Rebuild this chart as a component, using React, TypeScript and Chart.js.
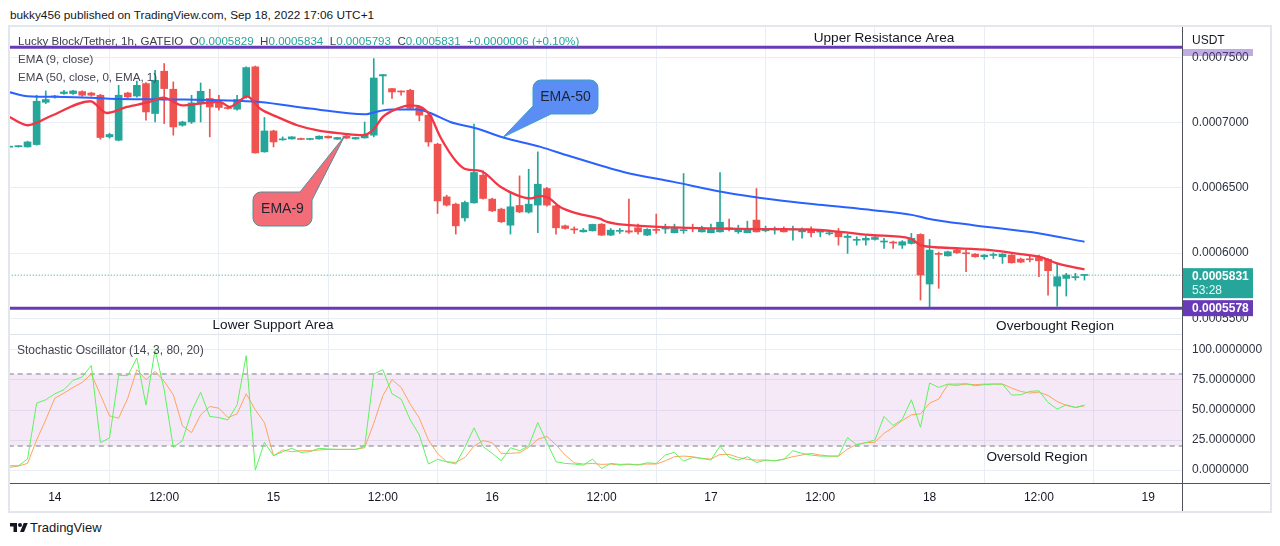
import { useEffect, useRef } from "react";
import { Chart, registerables } from "chart.js";
Chart.register(...registerables);

const FONT = "'Liberation Sans', Arial, sans-serif";
const UP = "#26a69a";
const DOWN = "#ef5350";
const GRID = "#e9eef5";

// Hourly candles, Sep 13 19:00 -> Sep 18 17:00
const opens = [
  6812e-7, 6816e-7, 6814e-7, 6832e-7, 7156e-7, 7197e-7, 7223e-7, 7223e-7, 7238e-7, 7227e-7,
  7210e-7, 6891e-7, 6865e-7, 7227e-7, 7204e-7, 7299e-7, 7070e-7, 7394e-7, 7256e-7, 6980e-7,
  7005e-7, 7151e-7, 7185e-7, 7151e-7, 7116e-7, 7103e-7, 7197e-7, 7427e-7, 6776e-7, 6936e-7,
  6868e-7, 6875e-7, 6878e-7, 6871e-7, 6875e-7, 6896e-7, 6873e-7, 6898e-7, 6875e-7, 6883e-7,
  6904e-7, 7358e-7, 7261e-7, 7240e-7, 7248e-7, 7118e-7, 7057e-7, 6835e-7, 6431e-7, 6375e-7,
  6270e-7, 6385e-7, 6597e-7, 6414e-7, 6337e-7, 6214e-7, 6365e-7, 6314e-7, 6368e-7, 6495e-7,
  6362e-7, 6209e-7, 6184e-7, 6163e-7, 6171e-7, 6222e-7, 6138e-7, 6167e-7, 6171e-7, 6194e-7,
  6138e-7, 6178e-7, 6185e-7, 6156e-7, 6172e-7, 6194e-7, 6163e-7, 6156e-7, 6163e-7, 6194e-7,
  6163e-7, 6156e-7, 6253e-7, 6171e-7, 6178e-7, 6189e-7, 6178e-7, 6163e-7, 6184e-7, 6161e-7,
  6148e-7, 6163e-7, 6120e-7, 6098e-7, 6100e-7, 6105e-7, 6085e-7, 6080e-7, 6061e-7, 6074e-7,
  6143e-7, 5763e-7, 5998e-7, 5979e-7, 6023e-7, 6000e-7, 5992e-7, 5972e-7, 5982e-7, 5972e-7,
  5985e-7, 5954e-7, 5954e-7, 5967e-7, 5952e-7, 5747e-7, 5806e-7, 5812e-7, 5829e-7,
];
const highs = [
  6827e-7, 6823e-7, 6858e-7, 7210e-7, 7243e-7, 7210e-7, 7248e-7, 7248e-7, 7244e-7, 7233e-7,
  7217e-7, 6919e-7, 7286e-7, 7233e-7, 7319e-7, 7307e-7, 7401e-7, 7453e-7, 7312e-7, 7011e-7,
  7210e-7, 7304e-7, 7256e-7, 7210e-7, 7118e-7, 7210e-7, 7428e-7, 7434e-7, 7039e-7, 6942e-7,
  6891e-7, 6892e-7, 6881e-7, 6878e-7, 6898e-7, 6898e-7, 6888e-7, 6904e-7, 6888e-7, 7005e-7,
  7491e-7, 7371e-7, 7263e-7, 7244e-7, 7256e-7, 7122e-7, 7064e-7, 6842e-7, 6444e-7, 6383e-7,
  6398e-7, 6988e-7, 6630e-7, 6421e-7, 6345e-7, 6459e-7, 6592e-7, 6643e-7, 6776e-7, 6505e-7,
  6368e-7, 6214e-7, 6201e-7, 6189e-7, 6222e-7, 6226e-7, 6189e-7, 6189e-7, 6414e-7, 6222e-7,
  6188e-7, 6299e-7, 6222e-7, 6222e-7, 6610e-7, 6222e-7, 6207e-7, 6222e-7, 6618e-7, 6260e-7,
  6214e-7, 6245e-7, 6495e-7, 6207e-7, 6201e-7, 6201e-7, 6207e-7, 6194e-7, 6201e-7, 6176e-7,
  6176e-7, 6189e-7, 6146e-7, 6125e-7, 6130e-7, 6126e-7, 6113e-7, 6092e-7, 6096e-7, 6151e-7,
  6149e-7, 6105e-7, 6008e-7, 6015e-7, 6031e-7, 6023e-7, 5996e-7, 5989e-7, 6002e-7, 5996e-7,
  5989e-7, 5962e-7, 5977e-7, 5985e-7, 5958e-7, 5921e-7, 5845e-7, 5845e-7, 5834e-7,
];
const lows = [
  6804e-7, 6812e-7, 6812e-7, 6827e-7, 7146e-7, 7187e-7, 7217e-7, 7217e-7, 7202e-7, 7202e-7,
  6873e-7, 6881e-7, 6860e-7, 7187e-7, 7195e-7, 7018e-7, 7005e-7, 6993e-7, 6904e-7, 6972e-7,
  6993e-7, 7005e-7, 6891e-7, 7095e-7, 7103e-7, 7095e-7, 7187e-7, 6766e-7, 6773e-7, 6814e-7,
  6865e-7, 6873e-7, 6869e-7, 6868e-7, 6873e-7, 6881e-7, 6871e-7, 6878e-7, 6873e-7, 6881e-7,
  6891e-7, 7141e-7, 7185e-7, 7210e-7, 7103e-7, 7013e-7, 6819e-7, 6304e-7, 6360e-7, 6146e-7,
  6245e-7, 6383e-7, 6414e-7, 6318e-7, 6234e-7, 6146e-7, 6310e-7, 6306e-7, 6156e-7, 6360e-7,
  6146e-7, 6184e-7, 6151e-7, 6161e-7, 6169e-7, 6134e-7, 6134e-7, 6151e-7, 6151e-7, 6146e-7,
  6134e-7, 6151e-7, 6151e-7, 6155e-7, 6151e-7, 6163e-7, 6161e-7, 6155e-7, 6161e-7, 6171e-7,
  6151e-7, 6155e-7, 6161e-7, 6163e-7, 6146e-7, 6161e-7, 6100e-7, 6115e-7, 6125e-7, 6125e-7,
  6138e-7, 6061e-7, 5998e-7, 6061e-7, 6061e-7, 6100e-7, 6036e-7, 6036e-7, 6036e-7, 6069e-7,
  5640e-7, 5584e-7, 5730e-7, 5977e-7, 5998e-7, 5857e-7, 5969e-7, 5952e-7, 5959e-7, 5921e-7,
  5923e-7, 5926e-7, 5933e-7, 5819e-7, 5678e-7, 5594e-7, 5671e-7, 5793e-7, 5793e-7,
];
const closes = [
  6819e-7, 6819e-7, 6852e-7, 7164e-7, 7177e-7, 7200e-7, 7235e-7, 7243e-7, 7210e-7, 7210e-7,
  6886e-7, 6909e-7, 7210e-7, 7197e-7, 7286e-7, 7082e-7, 7325e-7, 7261e-7, 6967e-7, 7005e-7,
  7151e-7, 7240e-7, 7120e-7, 7116e-7, 7108e-7, 7177e-7, 7422e-7, 6768e-7, 6936e-7, 6852e-7,
  6871e-7, 6891e-7, 6871e-7, 6875e-7, 6896e-7, 6883e-7, 6886e-7, 6881e-7, 6886e-7, 6904e-7,
  7342e-7, 7368e-7, 7235e-7, 7235e-7, 7110e-7, 7057e-7, 6852e-7, 6400e-7, 6368e-7, 6209e-7,
  6388e-7, 6618e-7, 6419e-7, 6324e-7, 6240e-7, 6355e-7, 6316e-7, 6375e-7, 6528e-7, 6368e-7,
  6194e-7, 6189e-7, 6178e-7, 6176e-7, 6220e-7, 6138e-7, 6176e-7, 6172e-7, 6161e-7, 6163e-7,
  6182e-7, 6174e-7, 6189e-7, 6189e-7, 6176e-7, 6189e-7, 6189e-7, 6189e-7, 6237e-7, 6182e-7,
  6189e-7, 6189e-7, 6163e-7, 6182e-7, 6182e-7, 6163e-7, 6182e-7, 6176e-7, 6156e-7, 6163e-7,
  6151e-7, 6125e-7, 6130e-7, 6101e-7, 6113e-7, 6120e-7, 6088e-7, 6077e-7, 6087e-7, 6113e-7,
  5832e-7, 6023e-7, 5990e-7, 6010e-7, 6002e-7, 5995e-7, 5972e-7, 5985e-7, 5985e-7, 5992e-7,
  5926e-7, 5931e-7, 5949e-7, 5941e-7, 5865e-7, 5819e-7, 5832e-7, 5816e-7, 5831e-7,
];

// EMA lines (candle index, value)
const ema9Idx = [0, 2, 4.5, 8.9, 10.7, 12.9, 15.4, 16.9, 19, 20.9, 23.1, 24.2, 25, 26.1, 27.5, 29.4, 31.6, 34.1, 36.6, 38.8, 39.9, 41, 42.6, 44, 45.1, 46.2, 47.3, 49.1, 50.2, 51.7, 53.9, 55.7, 57.2, 58.3, 59.3, 60.4, 62.3, 64.8, 65.6, 68.1, 72.9, 77.7, 82.1, 87.6, 91.2, 94.8, 98.9, 100, 102.2, 107.7, 111, 113.1, 115, 118];
const ema9Vals = [7044e-7, 6980e-7, 7049e-7, 7164e-7, 7074e-7, 7120e-7, 7159e-7, 7192e-7, 7133e-7, 7146e-7, 7159e-7, 7120e-7, 7151e-7, 7202e-7, 7108e-7, 7044e-7, 6980e-7, 6936e-7, 6916e-7, 6904e-7, 6942e-7, 7044e-7, 7108e-7, 7133e-7, 7122e-7, 7053e-7, 6890e-7, 6699e-7, 6641e-7, 6630e-7, 6508e-7, 6444e-7, 6419e-7, 6439e-7, 6419e-7, 6355e-7, 6304e-7, 6264e-7, 6240e-7, 6214e-7, 6197e-7, 6189e-7, 6184e-7, 6181e-7, 6163e-7, 6137e-7, 6112e-7, 6061e-7, 6043e-7, 6023e-7, 5992e-7, 5971e-7, 5921e-7, 5875e-7];
const ema50Idx = [0, 2, 6, 11, 15, 19, 23, 27.5, 33, 39, 40.7, 42, 44.8, 46.2, 48.4, 51.3, 54.2, 58.3, 61.2, 64.8, 67.4, 72.9, 78.3, 83.8, 89.3, 94.8, 99.2, 100.7, 105.8, 113.1, 118];
const ema50Vals = [7233e-7, 7202e-7, 7197e-7, 7184e-7, 7179e-7, 7177e-7, 7172e-7, 7159e-7, 7108e-7, 7064e-7, 7090e-7, 7100e-7, 7100e-7, 7074e-7, 7005e-7, 6955e-7, 6886e-7, 6814e-7, 6750e-7, 6674e-7, 6622e-7, 6546e-7, 6469e-7, 6411e-7, 6368e-7, 6329e-7, 6291e-7, 6266e-7, 6214e-7, 6151e-7, 6087e-7];

// Stochastic (14, 3) %K and %D per candle
const stochK = [
  3.6, 3.6, 9.1, 55.7, 58.5, 63.5, 66.9, 74.7, 77.5, 87,
  22.8, 26.7, 78.9, 78.6, 93.4, 54.1, 100, 66.9, 18.9, 24.5,
  48.8, 64.7, 44.6, 43.7, 41.8, 54.3, 95.3, 0, 23.1, 11.9,
  15.3, 18.1, 14.7, 15.3, 18.1, 17.5, 17.2, 17.2, 17.2, 19.5,
  80, 83.6, 63.5, 59.1, 41.8, 29.2, 5, 8.9, 6.9, 5,
  18.9, 35.1, 19.5, 13.9, 7.7, 18.6, 16.1, 20, 39.5, 23,
  6.9, 5.5, 5, 4.1, 9.1, 1.3, 5.5, 4.7, 5, 4.1,
  6, 5.5, 12.5, 14.7, 7.5, 10.5, 9.7, 8.3, 20, 10.5,
  8.3, 11.1, 6.3, 8.3, 7.7, 8.9, 16.1, 13.9, 12.5, 11.6,
  11.6, 11.6, 27, 20.9, 22.8, 25, 44.6, 37, 42.3, 58.5,
  35.6, 72.5, 68.8, 71.6, 71.6, 71.9, 70.2, 71.1, 71.6, 71.6,
  62.4, 62.7, 65.5, 66, 56.3, 50.7, 54.3, 52.1, 54.1,
];
const stochD = [
  2.2, 3.3, 5.5, 25, 41.8, 59.9, 64.1, 68.8, 73, 80,
  62.7, 45.1, 43.2, 59.9, 83.6, 75.3, 82.2, 73.9, 62.7, 36.8,
  31.2, 46, 52.9, 51.5, 43.7, 46.8, 63.5, 50.1, 39.5, 11.9,
  16.7, 15.3, 16.1, 16.1, 16.7, 17.2, 17.2, 17.2, 17.2, 18.6,
  39, 61.9, 75.3, 68.8, 54.9, 43.2, 25, 13.9, 6.9, 6.3,
  10.5, 20, 24.5, 22.8, 13.9, 13.9, 14.4, 18.9, 25.6, 28,
  21, 12.5, 6, 5, 5.5, 4.7, 5, 4.1, 4.7, 4.7,
  5, 5, 7.7, 11.1, 11.6, 11.1, 9.7, 9.1, 13, 13,
  10.5, 8.9, 8.3, 8.3, 7.7, 9.1, 11.1, 12.5, 13.9, 12.5,
  11.6, 11.6, 17.5, 21.4, 22.8, 23.1, 30.6, 35.6, 41.2, 46,
  46.8, 55.7, 59.1, 71.1, 70.5, 71.6, 71.1, 71.6, 71.6, 71.6,
  68.3, 65.5, 64.1, 64.9, 62.1, 57.1, 53.8, 52.1, 53.5,
];

const xTickIdx = [5, 17, 29, 41, 53, 65, 77, 89, 101, 113, 125];
const xTickLabels = ["14", "12:00", "15", "12:00", "16", "12:00", "17", "12:00", "18", "12:00", "19"];
const priceTicks = [0.00055, 0.0006, 0.00065, 0.0007, 0.00075];
const stochTicks = [0, 25, 50, 75, 100];
const stochBands = [80, 20];

const resistance = 0.0007577;
const support = 0.0005578;
const lastPrice = 0.0005831;
const countdown = "53:28";
const ema50Tip = [54.2, 6889e-7];
const ema9Tip = [36.8, 6898e-7];

function calloutPath(ctx: any, x0: number, y0: number, x1: number, y1: number, r: number, tail: string, tx: number, ty: number) {
  ctx.beginPath();
  ctx.moveTo(x0 + r, y0);
  if (tail === "tr") {
    ctx.lineTo(x1 - 12, y0);
    ctx.lineTo(tx, ty);
    ctx.lineTo(x1, y0 + 8);
  } else {
    ctx.lineTo(x1 - r, y0);
    ctx.arcTo(x1, y0, x1, y0 + r, r);
  }
  ctx.lineTo(x1, y1 - r);
  ctx.arcTo(x1, y1, x1 - r, y1, r);
  if (tail === "bl") {
    ctx.lineTo(x0 + 18, y1);
    ctx.lineTo(tx, ty);
    ctx.lineTo(x0, y1 - 8);
  } else {
    ctx.lineTo(x0 + r, y1);
    ctx.arcTo(x0, y1, x0, y1 - r, r);
  }
  ctx.lineTo(x0, y0 + r);
  ctx.arcTo(x0, y0, x0 + r, y0, r);
  ctx.closePath();
}

const overlayPlugin = {
  id: "overlay",
  afterDatasetsDraw(chart: any) {
    const { ctx, scales } = chart;
    const x = scales.x;
    const y = scales.y;
    ctx.save();
    calloutPath(ctx, 523, 53, 588, 87, 8, "bl", x.getPixelForValue(ema50Tip[0]), y.getPixelForValue(ema50Tip[1]));
    ctx.fillStyle = "#5b8df5";
    ctx.fill();
    ctx.strokeStyle = "#38a3bd";
    ctx.lineWidth = 1;
    ctx.stroke();
    calloutPath(ctx, 243, 165, 302, 199, 8, "tr", x.getPixelForValue(ema9Tip[0]), y.getPixelForValue(ema9Tip[1]));
    ctx.fillStyle = "#f36d78";
    ctx.fill();
    ctx.strokeStyle = "#4f8f99";
    ctx.stroke();
    ctx.fillStyle = "#1f2430";
    ctx.font = `14px ${FONT}`;
    ctx.textAlign = "center";
    ctx.textBaseline = "middle";
    ctx.fillText("EMA-50", 555.5, 70.5);
    ctx.fillText("EMA-9", 272.5, 182.5);
    ctx.fillStyle = "#131722";
    ctx.font = `13.6px ${FONT}`;
    ctx.fillText("Upper Resistance Area", 874, 11.5);
    ctx.fillText("Lower Support Area", 263, 298);
    ctx.fillText("Overbought Region", 1045, 299.5);
    ctx.fillText("Oversold Region", 1027, 430.5);
    ctx.restore();
  },
  afterDraw(chart: any) {
    const { ctx, chartArea: ca, scales, width, height } = chart;
    const y = scales.y;
    const y2 = scales.y2;
    ctx.save();
    ctx.strokeStyle = "#dfe3ea";
    ctx.lineWidth = 1;
    ctx.beginPath();
    ctx.moveTo(0, Math.round(y2.top) + 0.5);
    ctx.lineTo(ca.right, Math.round(y2.top) + 0.5);
    ctx.stroke();
    ctx.strokeStyle = "#50535e";
    ctx.beginPath();
    ctx.moveTo(Math.round(ca.right) + 0.5, 0);
    ctx.lineTo(Math.round(ca.right) + 0.5, height);
    ctx.moveTo(0, Math.round(ca.bottom) + 0.5);
    ctx.lineTo(width, Math.round(ca.bottom) + 0.5);
    ctx.stroke();
    const bx = ca.right + 1;
    ctx.fillStyle = "rgba(103,58,183,0.42)";
    ctx.fillRect(bx, 22, 70, 7);
    const lp = y.getPixelForValue(lastPrice);
    ctx.fillStyle = UP;
    ctx.fillRect(bx, lp - 7, 70, 30);
    ctx.fillStyle = "#ffffff";
    ctx.textAlign = "left";
    ctx.textBaseline = "middle";
    ctx.font = `bold 12px ${FONT}`;
    ctx.fillText(lastPrice.toFixed(7), ca.right + 10, lp + 1.5);
    ctx.font = `12px ${FONT}`;
    ctx.fillStyle = "#e8fbf8";
    ctx.fillText(countdown, ca.right + 10, lp + 15.5);
    const sp = y.getPixelForValue(support);
    ctx.fillStyle = "#673ab7";
    ctx.fillRect(bx, sp - 8, 70, 16);
    ctx.fillStyle = "#ffffff";
    ctx.font = `bold 12px ${FONT}`;
    ctx.fillText(support.toFixed(7), ca.right + 10, sp + 0.5);
    ctx.fillStyle = "#131722";
    ctx.font = `12px ${FONT}`;
    ctx.fillText("USDT", ca.right + 10, 13.5);
    ctx.restore();
  },
};

const noPad = (s: any) => {
  s.paddingTop = 0;
  s.paddingBottom = 0;
  s.paddingLeft = 0;
  s.paddingRight = 0;
};

export default function App() {
  const ref = useRef<HTMLCanvasElement>(null);
  useEffect(() => {
    const idx = opens.map((_, i) => i);
    const colors = idx.map((i) => (closes[i] >= opens[i] ? UP : DOWN));
    const wide = (v: number) => [{ x: -5, y: v }, { x: 140, y: v }];
    const lineBase = { pointRadius: 0, pointHoverRadius: 0, fill: false };
    const chart = new Chart(ref.current as HTMLCanvasElement, {
      type: "line",
      data: {
        datasets: [
          { ...lineBase, type: "line", label: "support", data: wide(support), borderColor: "#673ab7", borderWidth: 3, yAxisID: "y" },
          { ...lineBase, type: "line", label: "resistance", data: wide(resistance), borderColor: "#673ab7", borderWidth: 3, yAxisID: "y" },
          { ...lineBase, type: "line", label: "EMA 9", data: ema9Idx.map((x, k) => ({ x, y: ema9Vals[k] })), borderColor: "#f23645", borderWidth: 2.3, cubicInterpolationMode: "monotone", yAxisID: "y" },
          { ...lineBase, type: "line", label: "EMA 50", data: ema50Idx.map((x, k) => ({ x, y: ema50Vals[k] })), borderColor: "#2962ff", borderWidth: 2, cubicInterpolationMode: "monotone", yAxisID: "y" },
          { type: "bar", label: "body", data: idx.map((i) => ({ x: i, y: [opens[i], closes[i]] })), backgroundColor: colors, barThickness: 7, grouped: false, minBarLength: 1, borderWidth: 0, yAxisID: "y" },
          { type: "bar", label: "wick", data: idx.map((i) => ({ x: i, y: [lows[i], highs[i]] })), backgroundColor: colors, barThickness: 1, grouped: false, minBarLength: 1, borderWidth: 0, yAxisID: "y" },
          { ...lineBase, type: "line", label: "last", data: wide(lastPrice), borderColor: UP, borderWidth: 1, borderDash: [1, 2], yAxisID: "y" },
          { ...lineBase, type: "line", label: "%K", data: idx.map((i) => ({ x: i, y: stochK[i] })), borderColor: "#5ef25e", borderWidth: 1, yAxisID: "y2" },
          { ...lineBase, type: "line", label: "%D", data: idx.map((i) => ({ x: i, y: stochD[i] })), borderColor: "#ffa35c", borderWidth: 1, yAxisID: "y2" },
          { ...lineBase, type: "line", label: "upper band", data: wide(stochBands[0]), borderColor: "#787b86", borderWidth: 1, borderDash: [5, 4], yAxisID: "y2" },
          { ...lineBase, type: "line", label: "lower band", data: wide(stochBands[1]), borderColor: "#787b86", borderWidth: 1, borderDash: [5, 4], fill: "-1", backgroundColor: "rgba(156,39,176,0.1)", yAxisID: "y2" },
        ] as any,
      },
      options: {
        responsive: false,
        animation: false,
        events: [],
        layout: { padding: 0 },
        plugins: { legend: { display: false }, tooltip: { enabled: false } },
        scales: {
          x: {
            type: "linear",
            min: 0.077,
            max: 128.7,
            offset: false,
            afterBuildTicks: (s: any) => { s.ticks = xTickIdx.map((v) => ({ value: v })); },
            afterFit: (s: any) => { s.height = 28; noPad(s); },
            ticks: {
              autoSkip: false,
              maxRotation: 0,
              padding: 7,
              color: "#131722",
              font: { family: FONT, size: 12 },
              callback: (v: any) => { const k = xTickIdx.indexOf(Number(v)); return k >= 0 ? xTickLabels[k] : ""; },
            },
            grid: { color: GRID, drawTicks: false },
            border: { display: false },
          },
          y: {
            type: "linear",
            position: "right",
            stack: "panes",
            stackWeight: 307,
            min: 0.000538,
            max: 0.0007733,
            afterBuildTicks: (s: any) => { s.ticks = priceTicks.map((v) => ({ value: v })); },
            afterFit: (s: any) => { s.width = 88; noPad(s); },
            ticks: { autoSkip: false, padding: 10, color: "#2f3241", font: { family: FONT, size: 12 }, callback: (v: any) => Number(v).toFixed(7) },
            grid: { color: GRID, drawTicks: false },
            border: { display: false },
          },
          y2: {
            type: "linear",
            position: "right",
            stack: "panes",
            stackWeight: 149,
            min: -10.8,
            max: 113.3,
            afterBuildTicks: (s: any) => { s.ticks = stochTicks.map((v) => ({ value: v })); },
            afterFit: (s: any) => { s.width = 88; noPad(s); },
            ticks: { autoSkip: false, padding: 10, color: "#2f3241", font: { family: FONT, size: 12 }, callback: (v: any) => Number(v).toFixed(7) },
            grid: { color: GRID, drawTicks: false },
            border: { display: false },
          },
        },
      } as any,
      plugins: [overlayPlugin],
    });
    return () => chart.destroy();
  }, []);

  const abs = (left: number, top: number, extra: any = {}) => ({ position: "absolute" as const, left, top, whiteSpace: "nowrap" as const, lineHeight: "14px", ...extra });
  const teal = { color: UP };

  return (
    <div style={{ position: "absolute", left: 0, top: 0, width: 1280, height: 546, background: "#ffffff", overflow: "hidden", fontFamily: FONT }}>
      <div style={abs(10, 8, { fontSize: 11.8, color: "#131722" })}>bukky456 published on TradingView.com, Sep 18, 2022 17:06 UTC+1</div>
      <div style={{ position: "absolute", left: 8, top: 25, width: 1264, height: 488, border: "2px solid #e3e6ec", boxSizing: "border-box" }} />
      <canvas ref={ref} width={1260} height={484} style={{ position: "absolute", left: 10, top: 27, width: 1260, height: 484 }} />
      <div style={abs(18, 34, { fontSize: 11.6, color: "#3d404b" })}>
        Lucky Block/Tether, 1h, GATEIO&nbsp; O<span style={teal}>0.0005829</span>&nbsp; H<span style={teal}>0.0005834</span>&nbsp; L<span style={teal}>0.0005793</span>&nbsp; C<span style={teal}>0.0005831</span>&nbsp; <span style={teal}>+0.0000006 (+0.10%)</span>
      </div>
      <div style={abs(18, 52, { fontSize: 11.6, color: "#434651" })}>EMA (9, close)</div>
      <div style={abs(18, 70, { fontSize: 11.6, color: "#434651" })}>EMA (50, close, 0, EMA, 1)</div>
      <div style={abs(17, 343, { fontSize: 12, color: "#434651" })}>Stochastic Oscillator (14, 3, 80, 20)</div>
      <svg style={{ position: "absolute", left: 10, top: 521 }} width="18" height="14" viewBox="0 0 36 28">
        <path d="M14 22H7V11H0V4h14v18zM28 22h-8l7.5-18h8L28 22z" fill="#131722" />
        <circle cx="20" cy="8" r="4" fill="#131722" />
      </svg>
      <div style={abs(30, 520, { fontSize: 13, lineHeight: "16px", color: "#131722" })}>TradingView</div>
    </div>
  );
}
